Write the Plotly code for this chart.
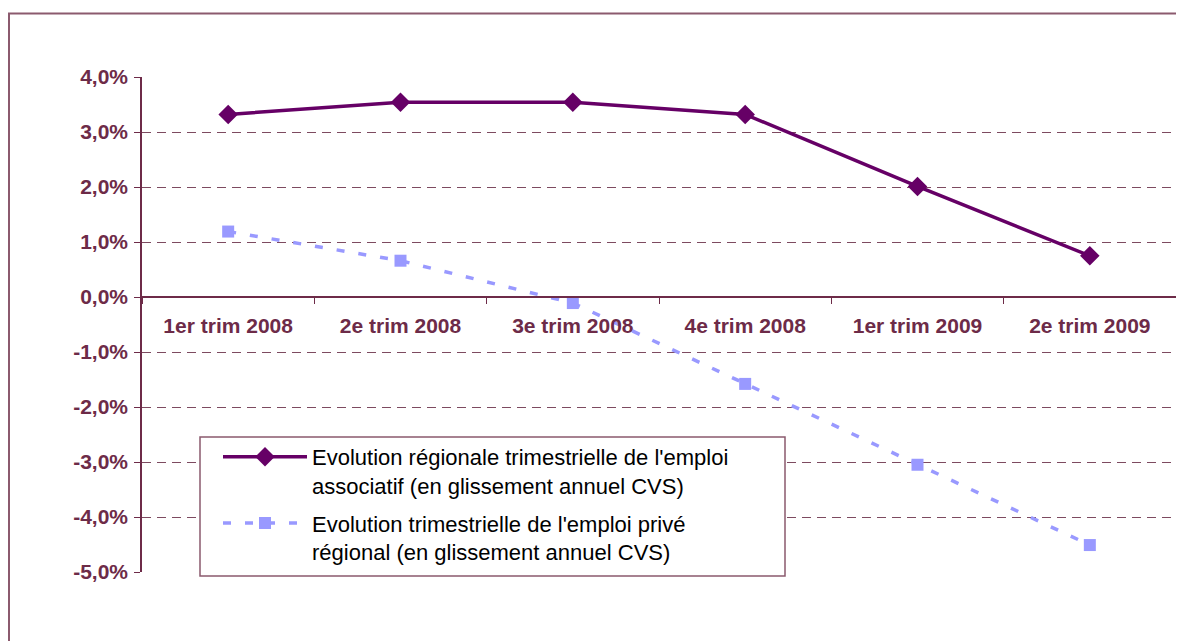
import plotly.graph_objects as go

categories = ["1er trim 2008", "2e trim 2008", "3e trim 2008", "4e trim 2008", "1er trim 2009", "2e trim 2009"]
emploi_associatif = [3.32, 3.54, 3.54, 3.32, 2.01, 0.75]
emploi_prive = [1.19, 0.66, -0.11, -1.58, -3.05, -4.51]
ytick_vals = [4, 3, 2, 1, 0, -1, -2, -3, -4, -5]
ytick_text = ["4,0%", "3,0%", "2,0%", "1,0%", "0,0%", "-1,0%", "-2,0%", "-3,0%", "-4,0%", "-5,0%"]
name_assoc = "Evolution régionale trimestrielle de l'emploi<br>associatif (en glissement annuel CVS)"
name_prive = "Evolution trimestrielle de l'emploi privé<br>régional (en glissement annuel CVS)"

AX = "#6d2b48"
GRID = "#7d4a60"
FRAME = "#8b5a6e"

# page body has an 8px margin; the figure is sized so it ends at the window edge
OFF = 8
W, H = 1184 - OFF, 641 - OFF
L, R, T, B = 134, 8, 69, 69
pw, ph = W - L - R, H - T - B

def px(x):  # page pixel -> paper x
    return (x - OFF - L) / pw

def py(y):  # page pixel -> paper y
    return (H - B - (y - OFF)) / ph

fig = go.Figure()
fig.add_trace(go.Scatter(
    x=categories, y=emploi_associatif, name=name_assoc, mode="lines+markers",
    line=dict(color="#660066", width=3.5),
    marker=dict(symbol="diamond", size=15, color="#660066"),
    legendgroup="a",
))
fig.add_trace(go.Scatter(
    x=categories, y=emploi_prive, name=name_prive, mode="lines+markers",
    line=dict(color="#9999ff", width=3.5, dash="8px,14px"),
    marker=dict(symbol="square", size=12, color="#9999ff"),
    legendgroup="b",
))

fig.update_layout(
    width=W, height=H,
    margin=dict(l=L, r=R, t=T, b=B, pad=0),
    paper_bgcolor="white", plot_bgcolor="white",
    font=dict(family="Liberation Sans, Arial, sans-serif", color=AX),
    showlegend=True,
    legend=dict(
        x=px(218), y=py(436), xanchor="left", yanchor="top",
        bgcolor="rgba(0,0,0,0)", borderwidth=0,
        font=dict(size=22, color="black", family="Liberation Sans, Arial, sans-serif"),
        itemwidth=84, valign="top", tracegroupgap=6,
    ),
    xaxis=dict(
        type="category", anchor="free", position=5 / 9,
        showline=True, linecolor=AX, linewidth=1.5,
        ticks="outside", ticklen=6, tickcolor=AX, tickson="boundaries",
        showgrid=False, zeroline=False,
        tickfont=dict(size=21, color=AX, family="Liberation Sans, Arial, sans-serif", weight="bold"),
        ticklabelstandoff=10,
        range=[-0.5, 5.5],
    ),
    yaxis=dict(
        range=[-5, 4], tickvals=ytick_vals, ticktext=ytick_text,
        showline=True, linecolor=AX, linewidth=1.5,
        ticks="outside", ticklen=6, tickcolor=AX,
        showgrid=True, gridcolor=GRID, griddash="9px,6px", gridwidth=1.3,
        zeroline=False,
        tickfont=dict(size=21, color=AX, family="Liberation Sans, Arial, sans-serif", weight="bold"),
        ticklabelstandoff=2,
    ),
    shapes=[
        dict(type="rect", xref="paper", yref="paper",
             x0=px(9), x1=px(1200), y0=py(13.5), y1=py(660),
             line=dict(color=FRAME, width=2), fillcolor="rgba(0,0,0,0)", layer="below"),
        dict(type="rect", xref="paper", yref="paper",
             x0=px(200), x1=px(785), y0=py(576), y1=py(437),
             line=dict(color=FRAME, width=1.5), fillcolor="white", layer="above"),
    ],
)

fig.write_html("out.html")
